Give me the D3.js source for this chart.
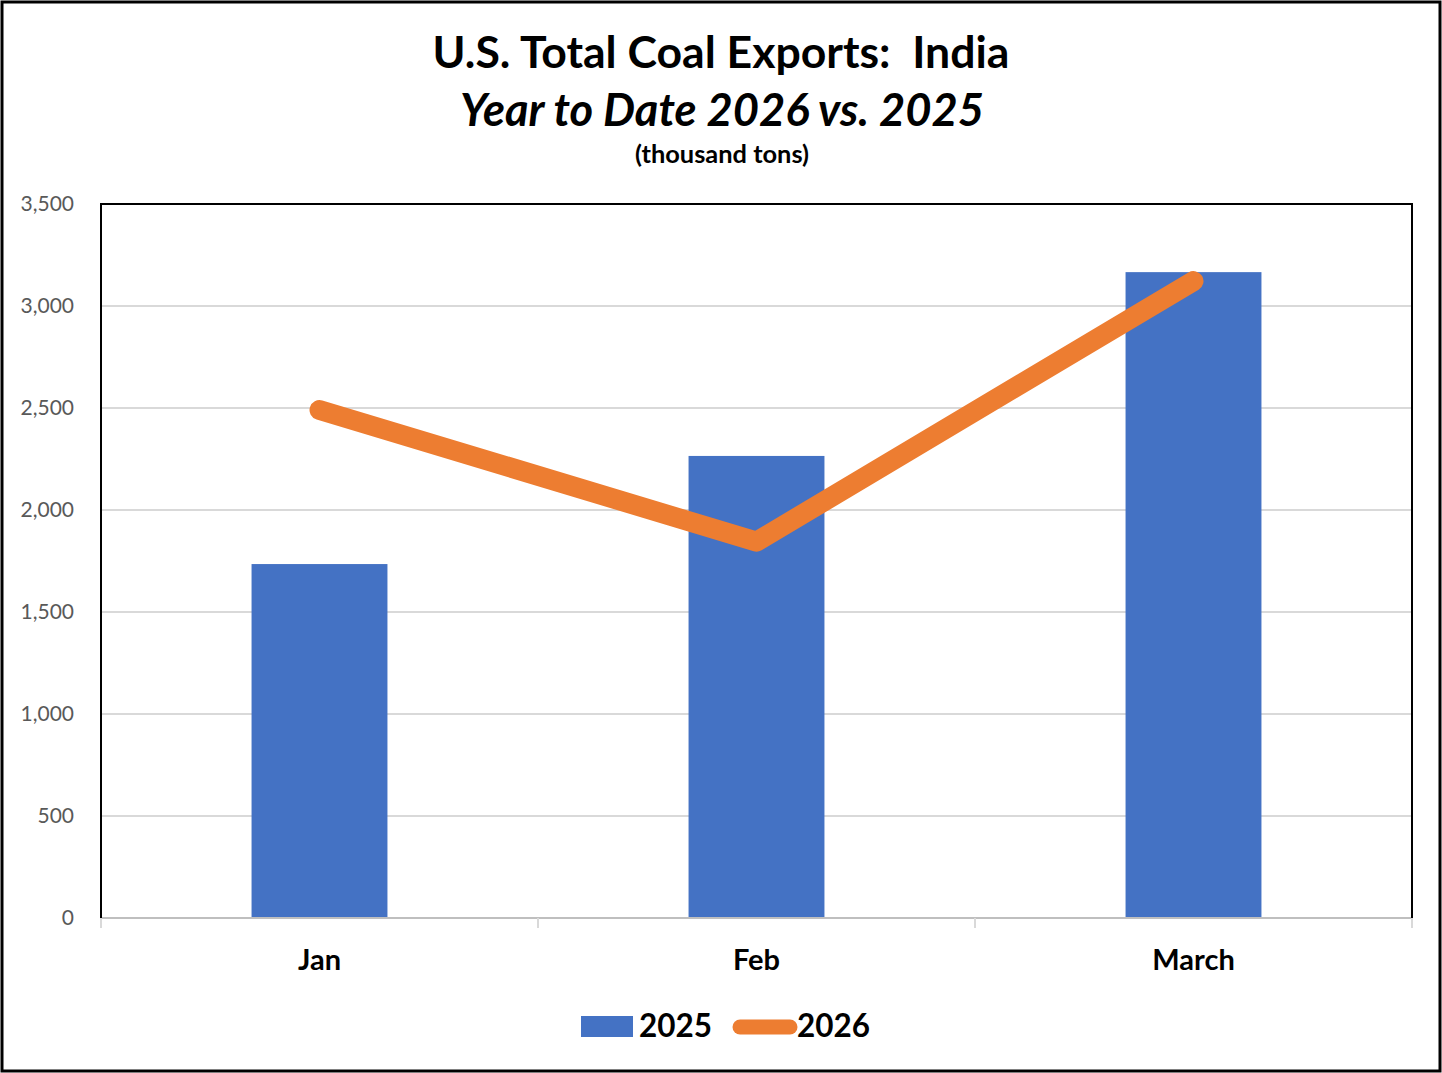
<!DOCTYPE html>
<html>
<head>
<meta charset="utf-8">
<script src="https://cdn.jsdelivr.net/npm/d3@7"></script>
<style>
  body { margin: 0; background: #fff; }
  svg { display: block; font-family: Lato, "Open Sans", sans-serif; }
</style>
</head>
<body>
<div id="chart"></div>
<script>
'use strict';

// data
var months = ["Jan", "Feb", "March"];
var exports2025 = [1735, 2265, 3166];
var exports2026 = [2490, 1845, 3122];
var yTicks = [0, 500, 1000, 1500, 2000, 2500, 3000, 3500];
var seriesNames = ["2025", "2026"];

var width = 1442, height = 1073;
var margin = { top: 204, right: 30, bottom: 155, left: 101 };

var svg = d3.select("#chart")
    .append("svg")
    .attr("width", width)
    .attr("height", height);

// outer frame
svg.append("rect")
    .attr("x", 2).attr("y", 2)
    .attr("width", width - 4).attr("height", height - 4)
    .attr("fill", "#fff")
    .attr("stroke", "#000")
    .attr("stroke-width", 3);

// scale a text element so it spans the given width
function fitText(sel, target) {
    var fs = parseFloat(sel.attr("font-size"));
    var w = sel.node().getComputedTextLength();
    if (w > 0) sel.attr("font-size", fs * target / w);
    return sel;
}

// Titles
var t1 = svg.append("text")
    .attr("x", 721).attr("y", 68)
    .attr("text-anchor", "middle")
    .attr("font-size", 40).attr("font-weight", "bold")
    .attr("fill", "#000")
    .style("white-space", "pre")
    .text("U.S. Total Coal Exports:  India");
fitText(t1, 577);

var t2 = svg.append("text")
    .attr("x", 722).attr("y", 126)
    .attr("text-anchor", "middle")
    .attr("font-size", 40).attr("font-weight", "bold")
    .attr("font-style", "italic")
    .attr("fill", "#000")
    .text("Year to Date 2026 vs. 2025");
fitText(t2, 524);

var t3 = svg.append("text")
    .attr("x", 722).attr("y", 163)
    .attr("text-anchor", "middle")
    .attr("font-size", 20).attr("font-weight", "bold")
    .attr("fill", "#000")
    .text("(thousand tons)");
fitText(t3, 174);

var x = d3.scaleBand()
    .domain(months)
    .range([margin.left, width - margin.right])
    .padding(0);

var y = d3.scaleLinear()
    .domain([0, 3500])
    .range([height - margin.bottom, margin.top]);

var plotL = margin.left, plotR = width - margin.right, plotT = y(3500), plotB = y(0);
var barW = x.bandwidth() * 0.311;

// gridlines
svg.append("g")
    .selectAll("line")
    .data(yTicks.filter(d => d > 0 && d < 3500))
    .enter().append("line")
    .attr("x1", plotL).attr("x2", plotR)
    .attr("y1", d => y(d)).attr("y2", d => y(d))
    .attr("stroke", "#d9d9d9")
    .attr("stroke-width", 2);

// y axis labels
var yAxis = svg.append("g")
    .attr("transform", "translate(" + (plotL - 27) + ",0)")
    .call(d3.axisLeft(y).tickValues(yTicks).tickFormat(d3.format(",")).tickSize(0).tickPadding(0));
yAxis.select(".domain").remove();
yAxis.selectAll("text")
    .attr("font-family", "Lato, sans-serif")
    .attr("font-size", 21)
    .attr("fill", "#595959");

// bars 2025
svg.append("g")
    .selectAll("rect")
    .data(months)
    .enter().append("rect")
    .attr("x", d => x(d) + (x.bandwidth() - barW) / 2)
    .attr("width", barW)
    .attr("y", (d, i) => y(exports2025[i]))
    .attr("height", (d, i) => y(0) - y(exports2025[i]))
    .attr("fill", "#4472C4");

// x axis base line and boundary ticks
svg.append("line")
    .attr("x1", plotL).attr("x2", plotR)
    .attr("y1", plotB).attr("y2", plotB)
    .attr("stroke", "#bfbfbf").attr("stroke-width", 2);

var edges = months.map(d => x(d)).concat([x.range()[1]]);
svg.append("g")
    .selectAll("line")
    .data(edges)
    .enter().append("line")
    .attr("x1", d => d).attr("x2", d => d)
    .attr("y1", plotB).attr("y2", plotB + 10)
    .attr("stroke", "#d9d9d9").attr("stroke-width", 2);

// plot border (left, top, right)
svg.append("path")
    .attr("d", "M" + plotL + "," + plotB + "V" + plotT + "H" + plotR + "V" + plotB)
    .attr("fill", "none")
    .attr("stroke", "#000")
    .attr("stroke-width", 2);

// x labels
var xAxis = svg.append("g")
    .attr("transform", "translate(0," + plotB + ")")
    .call(d3.axisBottom(x).tickSize(0).tickPadding(0));
xAxis.select(".domain").remove();
xAxis.selectAll("text")
    .attr("dy", null)
    .attr("y", 52)
    .attr("font-family", "Lato, sans-serif")
    .attr("font-size", 29)
    .attr("font-weight", "bold")
    .attr("fill", "#000");

// line 2026
var line = d3.line()
    .x((d, i) => x(months[i]) + x.bandwidth() / 2)
    .y(d => y(d));

svg.append("path")
    .datum(exports2026)
    .attr("d", line)
    .attr("fill", "none")
    .attr("stroke", "#ED7D31")
    .attr("stroke-width", 20)
    .attr("stroke-linecap", "round")
    .attr("stroke-linejoin", "round");

// legend
var legend = svg.append("g");
legend.append("rect")
    .attr("x", 581).attr("y", 1016)
    .attr("width", 52).attr("height", 21)
    .attr("fill", "#4472C4");
var l1 = legend.append("text")
    .attr("x", 639).attr("y", 1037)
    .attr("font-size", 32).attr("font-weight", "bold")
    .text(seriesNames[0]);
fitText(l1, 73);
legend.append("line")
    .attr("x1", 740).attr("x2", 790)
    .attr("y1", 1027).attr("y2", 1027)
    .attr("stroke", "#ED7D31")
    .attr("stroke-width", 15)
    .attr("stroke-linecap", "round");
var l2 = legend.append("text")
    .attr("x", 797).attr("y", 1037)
    .attr("font-size", 32).attr("font-weight", "bold")
    .text(seriesNames[1]);
fitText(l2, 73);
</script>
</body>
</html>
